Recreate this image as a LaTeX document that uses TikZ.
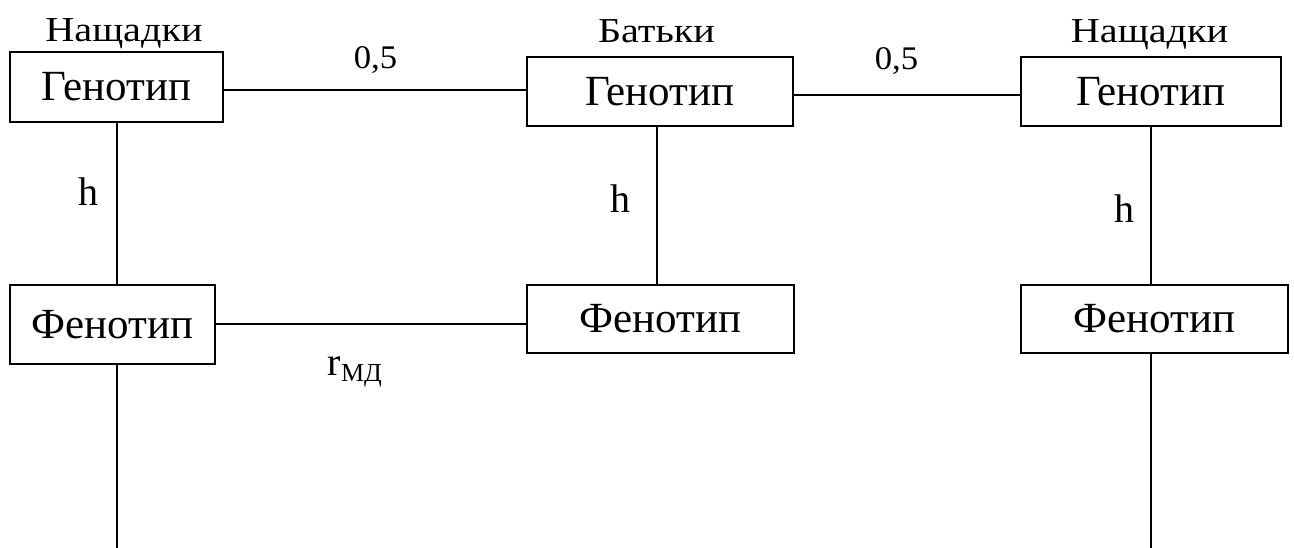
\documentclass[tikz,border=0pt]{standalone}
\usepackage{fontspec}
\setmainfont{Liberation Serif}
\begin{document}
\begin{tikzpicture}[x=1pt,y=-1pt,
  line width=1.6pt,
  box/.style={draw, inner sep=0pt, font=\fontsize{43}{50}\selectfont},
  head/.style={anchor=base, inner sep=0pt, xscale=1.15, font=\fontsize{35}{42}\selectfont},
  coef/.style={anchor=base, inner sep=0pt, xscale=1.05, font=\fontsize{33}{40}\selectfont},
  lab/.style={anchor=base, inner sep=0pt, font=\fontsize{40}{46}\selectfont}]
\useasboundingbox (0,0) rectangle (1294,548);

% genotype row
\node[box, minimum width=213pt, minimum height=70pt] (G1) at (116.5,87) {Генотип};
\node[box, minimum width=266pt, minimum height=69pt] (G2) at (660,91.5) {Генотип};
\node[box, minimum width=260pt, minimum height=69pt] (G3) at (1151,91.5) {Генотип};

% phenotype row
\node[box, minimum width=205pt, minimum height=79pt] (F1) at (112.5,324.5) {Фенотип};
\node[box, minimum width=267pt, minimum height=68pt] (F2) at (660.5,319) {Фенотип};
\node[box, minimum width=267pt, minimum height=68pt] (F3) at (1154.5,319) {Фенотип};

% group headings
\node[head] (t1) at (124,42) {Нащадки};
\node[head] (t2) at (656.5,43) {Батьки};
\node[head] (t3) at (1149.5,43) {Нащадки};

% relationship coefficients
\node[coef] (c1) at (375.5,69) {0,5};
\node[coef] (c2) at (896.5,70) {0,5};
\node[lab] (h1) at (88,206) {h};
\node[lab] (h2) at (620.5,213) {h};
\node[lab] (h3) at (1124,223) {h};
\node[anchor=base west, inner sep=0pt, font=\fontsize{40}{46}\selectfont] (r) at (327,375)
  {r\raisebox{-6pt}{\fontsize{26}{30}\selectfont МД}};

% column x positions and open ends
\coordinate (xl) at (117,0);
\coordinate (xm) at (657,0);
\coordinate (xr) at (1151,0);
\coordinate (endl) at (117,548);
\coordinate (endr) at (1151,548);

% horizontal links
\draw (G1.east |- 0,90) -- (G2.west |- 0,90);
\draw (G2.east |- 0,95) -- (G3.west |- 0,95);
\draw (F1.east |- 0,324) -- (F2.west |- 0,324);

% vertical links
\draw (xl |- G1.south) -- (xl |- F1.north);
\draw (xl |- F1.south) -- (endl);
\draw (xm |- G2.south) -- (xm |- F2.north);
\draw (xr |- G3.south) -- (xr |- F3.north);
\draw (xr |- F3.south) -- (endr);
\end{tikzpicture}
\end{document}
